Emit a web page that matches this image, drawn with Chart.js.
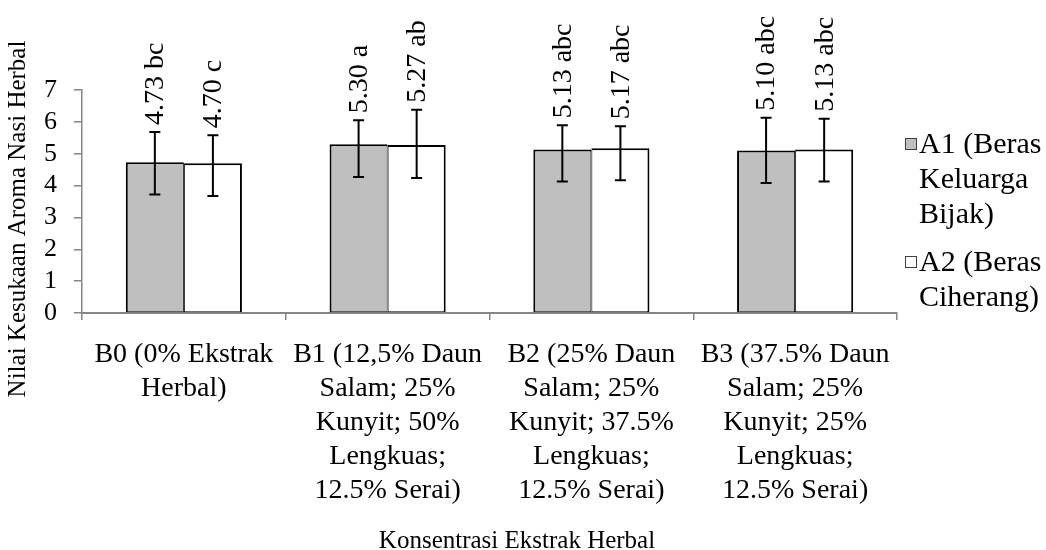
<!DOCTYPE html>
<html><head><meta charset="utf-8">
<script src="https://cdn.jsdelivr.net/npm/chart.js@4.4.0/dist/chart.umd.min.js"></script>
<style>html,body{margin:0;padding:0;background:#fff;}#wrap{width:1046px;height:550px;}</style>
</head><body><div id="wrap"><canvas id="c" width="1046" height="550"></canvas></div>
<script>
// ---- data ----
const categories = [
  ["B0 (0% Ekstrak", "Herbal)"],
  ["B1 (12,5% Daun", "Salam; 25%", "Kunyit; 50%", "Lengkuas;", "12.5% Serai)"],
  ["B2 (25% Daun", "Salam; 25%", "Kunyit; 37.5%", "Lengkuas;", "12.5% Serai)"],
  ["B3 (37.5% Daun", "Salam; 25%", "Kunyit; 25%", "Lengkuas;", "12.5% Serai)"]
];
const seriesNames = ["A1 (Beras Keluarga Bijak)", "A2 (Beras Ciherang)"];
const legendLines = [["A1 (Beras", "Keluarga", "Bijak)"], ["A2 (Beras", "Ciherang)"]];
const a1Values = [4.73, 5.30, 5.13, 5.10];
const a2Values = [4.70, 5.27, 5.17, 5.13];
const a1ErrUp = [0.95, 0.75, 0.76, 1.03];
const a1ErrDown = [1.01, 1.03, 1.00, 1.02];
const a2ErrUp = [0.88, 1.11, 0.69, 0.97];
const a2ErrDown = [1.03, 1.03, 1.00, 1.00];
const a1Labels = ["4.73 bc", "5.30 a", "5.13 abc", "5.10 abc"];
const a2Labels = ["4.70 c", "5.27 ab", "5.17 abc", "5.13 abc"];
const yTicks = [0, 1, 2, 3, 4, 5, 6, 7];
const yTitle = "Nilai Kesukaan Aroma Nasi Herbal";
const xTitle = "Konsentrasi Ekstrak Herbal";

// ---- styling ----
const FONT = "'Liberation Serif', 'Times New Roman', serif";
Chart.defaults.font.family = FONT;
const AXIS = '#868686';
const errUp = [a1ErrUp, a2ErrUp];
const errDown = [a1ErrDown, a2ErrDown];
const barLabels = [a1Labels, a2Labels];
const fills = ['#BFBFBF', '#FFFFFF'];

const extrasPlugin = {
  id: 'extras',
  afterDatasetsDraw(chart) {
    const ctx = chart.ctx, ys = chart.scales.y;
    chart.data.datasets.forEach((ds, di) => {
      const meta = chart.getDatasetMeta(di);
      meta.data.forEach((bar, i) => {
        const v = ds.data[i];
        const x = bar.x;
        const yt = ys.getPixelForValue(v + errUp[di][i]);
        const yb = ys.getPixelForValue(v - errDown[di][i]);
        ctx.save();
        ctx.strokeStyle = '#000';
        ctx.lineWidth = 2;
        ctx.beginPath();
        ctx.moveTo(x, yt); ctx.lineTo(x, yb);
        ctx.moveTo(x - 5.5, yt); ctx.lineTo(x + 5.5, yt);
        ctx.moveTo(x - 5.5, yb); ctx.lineTo(x + 5.5, yb);
        ctx.stroke();
        // value label
        ctx.translate(x + 1, yt - 7);
        ctx.rotate(-Math.PI / 2);
        ctx.fillStyle = '#000';
        ctx.font = '28px ' + FONT;
        ctx.textAlign = 'left';
        ctx.textBaseline = 'middle';
        ctx.fillText(barLabels[di][i], 0, 0);
        ctx.restore();
      });
    });
  },
  afterDraw(chart) {
    const ctx = chart.ctx;
    ctx.save();
    ctx.fillStyle = '#000';
    ctx.font = '25px ' + FONT;
    ctx.textAlign = 'center';
    ctx.textBaseline = 'middle';
    ctx.fillText(xTitle, 517, 541);
    ctx.save();
    ctx.translate(18, 219);
    ctx.rotate(-Math.PI / 2);
    ctx.fillText(yTitle, 0, 0);
    ctx.restore();
    // legend
    const rows = [145, 263];
    ctx.font = '30px ' + FONT;
    ctx.textAlign = 'left';
    legendLines.forEach((lines, di) => {
      const y0 = rows[di];
      ctx.fillStyle = fills[di];
      ctx.fillRect(905, y0 - 7, 12, 12);
      ctx.strokeStyle = '#404040';
      ctx.lineWidth = 1;
      ctx.strokeRect(905.5, y0 - 6.5, 11, 11);
      ctx.fillStyle = '#000';
      lines.forEach((t, li) => ctx.fillText(t, 919, y0 + li * 35));
    });
    ctx.restore();
  }
};

new Chart(document.getElementById('c'), {
  type: 'bar',
  data: {
    labels: categories,
    datasets: [
      { label: seriesNames[0], data: a1Values, backgroundColor: fills[0], borderColor: '#000',
        borderWidth: { left: 2, top: 2, right: 1, bottom: 1 }, borderSkipped: false,
        categoryPercentage: 0.57, barPercentage: 1.0 },
      { label: seriesNames[1], data: a2Values, backgroundColor: fills[1], borderColor: '#000',
        borderWidth: { left: 1, top: 2, right: 2, bottom: 1 }, borderSkipped: false,
        categoryPercentage: 0.57, barPercentage: 1.0 }
    ]
  },
  options: {
    responsive: false,
    animation: false,
    devicePixelRatio: 1,
    layout: { padding: { top: 90, right: 149, left: 0, bottom: 0 } },
    plugins: { legend: { display: false }, tooltip: { enabled: false } },
    scales: {
      x: {
        offset: true,
        grid: { offset: true, drawOnChartArea: false, drawTicks: true, tickLength: 7, color: AXIS, lineWidth: 1.5 },
        border: { color: AXIS, width: 2 },
        ticks: { color: '#000', font: { family: FONT, size: 28, lineHeight: 34 / 28 }, autoSkip: false, maxRotation: 0, minRotation: 0, padding: 18 },
        afterFit: s => { s.height = 237; }
      },
      y: {
        min: 0, max: 7,
        afterBuildTicks: s => { s.ticks = yTicks.map(v => ({ value: v })); },
        grid: { drawOnChartArea: false, drawTicks: true, tickLength: 8, color: AXIS, lineWidth: 1.5 },
        border: { color: AXIS, width: 1.5 },
        ticks: { color: '#000', font: { family: FONT, size: 26, lineHeight: 1 }, padding: 17, autoSkip: false },
        afterFit: s => { s.width = 82; }
      }
    }
  },
  plugins: [extrasPlugin]
});
</script></body></html>
